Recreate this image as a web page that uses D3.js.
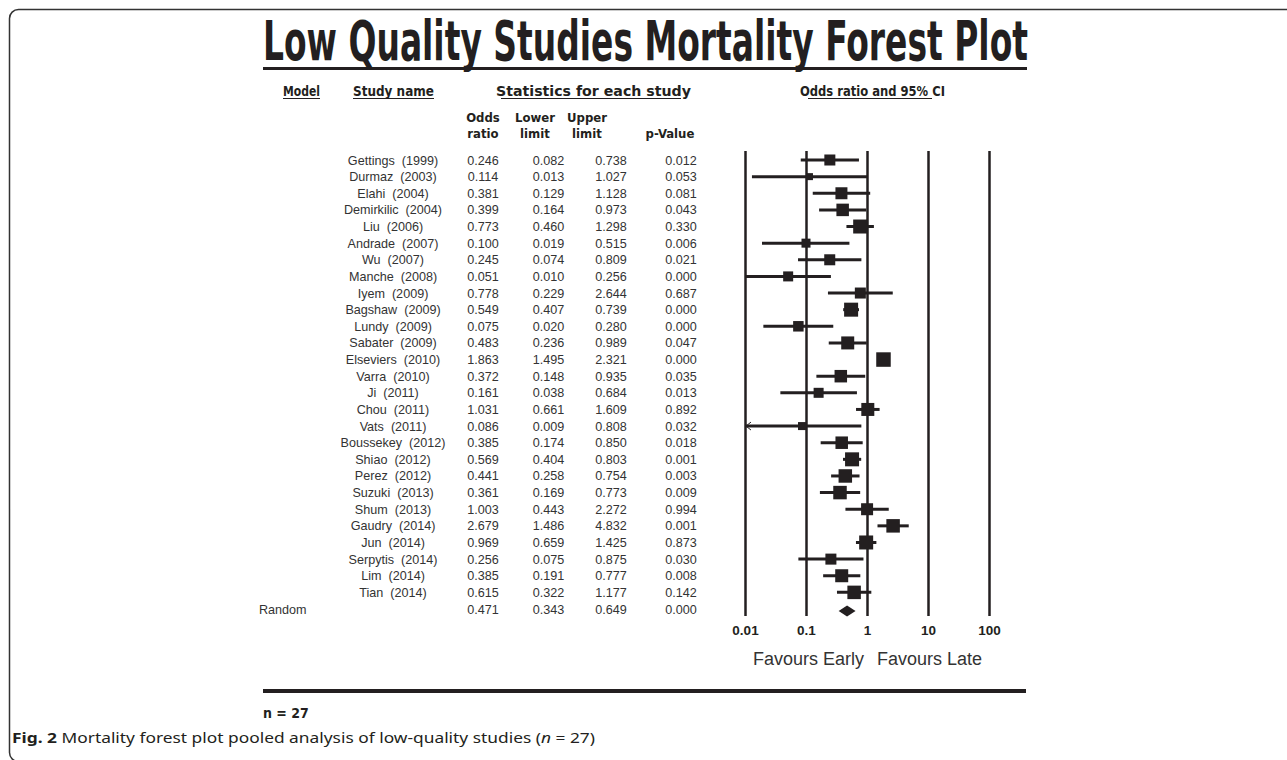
<!DOCTYPE html>
<html>
<head>
<meta charset="utf-8">
<script src="https://cdn.jsdelivr.net/npm/d3@7"></script>
<style>
  body { margin: 0; background: #fff; overflow: hidden; }
  svg { display: block; }
</style>
</head>
<body>
<div id="chart"></div>
<script>
// study rows, top to bottom
const studies = ['Gettings (1999)', 'Durmaz (2003)', 'Elahi (2004)', 'Demirkilic (2004)', 'Liu (2006)',
  'Andrade (2007)', 'Wu (2007)', 'Manche (2008)', 'Iyem (2009)', 'Bagshaw (2009)', 'Lundy (2009)',
  'Sabater (2009)', 'Elseviers (2010)', 'Varra (2010)', 'Ji (2011)', 'Chou (2011)', 'Vats (2011)',
  'Boussekey (2012)', 'Shiao (2012)', 'Perez (2012)', 'Suzuki (2013)', 'Shum (2013)', 'Gaudry (2014)',
  'Jun (2014)', 'Serpytis (2014)', 'Lim (2014)', 'Tian (2014)'];
const oddsRatio = [0.246, 0.114, 0.381, 0.399, 0.773, 0.100, 0.245, 0.051, 0.778, 0.549, 0.075, 0.483, 1.863,
  0.372, 0.161, 1.031, 0.086, 0.385, 0.569, 0.441, 0.361, 1.003, 2.679, 0.969, 0.256, 0.385, 0.615];
const lowerLimit = [0.082, 0.013, 0.129, 0.164, 0.460, 0.019, 0.074, 0.010, 0.229, 0.407, 0.020, 0.236, 1.495,
  0.148, 0.038, 0.661, 0.009, 0.174, 0.404, 0.258, 0.169, 0.443, 1.486, 0.659, 0.075, 0.191, 0.322];
const upperLimit = [0.738, 1.027, 1.128, 0.973, 1.298, 0.515, 0.809, 0.256, 2.644, 0.739, 0.280, 0.989, 2.321,
  0.935, 0.684, 1.609, 0.808, 0.850, 0.803, 0.754, 0.773, 2.272, 4.832, 1.425, 0.875, 0.777, 1.177];
const pValue = ['0.012', '0.053', '0.081', '0.043', '0.330', '0.006', '0.021', '0.000', '0.687', '0.000', '0.000',
  '0.047', '0.000', '0.035', '0.013', '0.892', '0.032', '0.018', '0.001', '0.003', '0.009', '0.994', '0.001',
  '0.873', '0.030', '0.008', '0.142'];
// relative weights (%), estimated from the square sizes
const weights = [3.05, 1.23, 3.62, 3.93, 4.93, 2.04, 3.05, 2.52, 3.05, 4.93, 2.77, 4.25, 5.29, 3.93, 2.52,
  4.25, 1.61, 3.93, 4.93, 4.58, 4.58, 3.62, 4.58, 4.93, 3.05, 4.25, 4.58];
// pooled random effects estimate
const pooled = { label: 'Random', or: 0.471, lower: 0.343, upper: 0.649, p: '0.000' };
const tickValues = [0.01, 0.1, 1, 10, 100];
const tickLabels = ['0.01', '0.1', '1', '10', '100'];

const width = 1287;
const height = 760;
const ink = '#231f20';
const textColor = '#333';
const narrow = "'Liberation Sans Narrow', 'Arial Narrow', 'DejaVu Sans Condensed', 'Liberation Sans', sans-serif";
const sans = "'Liberation Sans', Arial, sans-serif";

const rows = studies.map((s, i) => ({
  name: s, or: oddsRatio[i], lower: lowerLimit[i], upper: upperLimit[i], p: pValue[i], w: weights[i],
}));

const svg = d3.select('#chart').append('svg')
  .attr('width', width)
  .attr('height', height);

// rounded frame, running off the right and bottom like the page crop
svg.append('rect')
  .attr('x', 9.5).attr('y', 9.5)
  .attr('width', 1320).attr('height', 752)
  .attr('rx', 9)
  .attr('fill', 'none')
  .attr('stroke', '#333')
  .attr('stroke-width', 1.5);

// title
svg.append('text')
  .attr('x', 263).attr('y', 60)
  .attr('textLength', 765)
  .attr('lengthAdjust', 'spacingAndGlyphs')
  .style('font-family', narrow)
  .style('font-stretch', 'condensed')
  .style('font-weight', 'bold')
  .style('font-size', '55px')
  .attr('fill', ink)
  .text('Low Quality Studies Mortality Forest Plot');

svg.append('line')
  .attr('x1', 263).attr('x2', 1027)
  .attr('y1', 68.5).attr('y2', 68.5)
  .attr('stroke', ink).attr('stroke-width', 3);

// column group headers
const headers = [
  { t: 'Model', x: 283, len: 37, u: [283, 320] },
  { t: 'Study name', x: 353, len: 81, u: [353, 434] },
  { t: 'Statistics for each study', x: 496, len: 195, u: [501, 681] },
  { t: 'Odds ratio and 95% CI', x: 800, len: 145, u: [808, 932] },
];
const hg = svg.append('g');
hg.selectAll('text').data(headers).join('text')
  .attr('x', (d) => d.x).attr('y', 96)
  .attr('textLength', (d) => d.len)
  .attr('lengthAdjust', 'spacingAndGlyphs')
  .style('font-family', narrow)
  .style('font-stretch', 'condensed')
  .style('font-weight', 'bold')
  .style('font-size', '13.5px')
  .attr('fill', ink)
  .text((d) => d.t);
hg.selectAll('line').data(headers).join('line')
  .attr('x1', (d) => d.u[0]).attr('x2', (d) => d.u[1])
  .attr('y1', 98.5).attr('y2', 98.5)
  .attr('stroke', ink).attr('stroke-width', 1.2);

// column centres
const col = { name: 393, or: 483, lower: 548.5, upper: 611, p: 681 };

const subHeads = [
  { l: ['Odds', 'ratio'], x: 483 },
  { l: ['Lower', 'limit'], x: 535 },
  { l: ['Upper', 'limit'], x: 587 },
  { l: ['', 'p-Value'], x: 670 },
];
svg.append('g').selectAll('text').data(subHeads).join('text')
  .attr('text-anchor', 'middle')
  .style('font-family', narrow)
  .style('font-stretch', 'condensed')
  .style('font-weight', 'bold')
  .style('font-size', '13px')
  .attr('fill', ink)
  .selectAll('tspan').data((d) => d.l.map((s, i) => ({ s, i, x: d.x }))).join('tspan')
  .attr('x', (d) => d.x)
  .attr('y', (d) => 122 + d.i * 16)
  .text((d) => d.s);

// scales
const y = d3.scalePoint()
  .domain([...studies, pooled.label])
  .range([160, 609]);

const x = d3.scaleLog()
  .domain([0.01, 100])
  .range([745, 989]);

const size = d3.scaleSqrt()
  .domain([0, d3.max(weights)])
  .range([0, 14.5]);

const fmt = d3.format('.3f');

// table text
const table = svg.append('g')
  .style('font-family', sans)
  .style('font-size', '12.6px')
  .attr('fill', textColor)
  .attr('text-anchor', 'middle');

const cells = [];
rows.forEach((r) => {
  cells.push({ x: col.name, y: y(r.name), t: r.name.replace(' (', '\u00a0\u00a0(') });
  cells.push({ x: col.or, y: y(r.name), t: fmt(r.or) });
  cells.push({ x: col.lower, y: y(r.name), t: fmt(r.lower) });
  cells.push({ x: col.upper, y: y(r.name), t: fmt(r.upper) });
  cells.push({ x: col.p, y: y(r.name), t: r.p });
});
cells.push({ x: col.or, y: y(pooled.label), t: fmt(pooled.or) });
cells.push({ x: col.lower, y: y(pooled.label), t: fmt(pooled.lower) });
cells.push({ x: col.upper, y: y(pooled.label), t: fmt(pooled.upper) });
cells.push({ x: col.p, y: y(pooled.label), t: pooled.p });

table.selectAll('text').data(cells).join('text')
  .attr('x', (d) => d.x)
  .attr('y', (d) => d.y + 4.5)
  .text((d) => d.t);

table.append('text')
  .attr('x', 259)
  .attr('y', y(pooled.label) + 4.5)
  .attr('text-anchor', 'start')
  .text(pooled.label);

// plot axis: vertical reference lines with labels below
const plotTop = 151;
const plotBottom = 616;
const axis = svg.append('g')
  .attr('transform', `translate(0,${plotBottom})`)
  .call(d3.axisBottom(x)
    .tickValues(tickValues)
    .tickFormat((d, i) => tickLabels[i])
    .tickSize(-(plotBottom - plotTop))
    .tickPadding(9));
axis.select('.domain').remove();
axis.selectAll('.tick line')
  .attr('stroke', ink)
  .attr('stroke-width', 2.5);
axis.selectAll('.tick text')
  .attr('fill', ink)
  .style('font-family', sans)
  .style('font-weight', 'bold')
  .style('font-size', '13.5px');

// confidence intervals
const [xmin, xmax] = x.domain();
const marks = svg.append('g');
marks.selectAll('line').data(rows).join('line')
  .attr('x1', (d) => x(Math.max(d.lower, xmin)))
  .attr('x2', (d) => x(Math.min(d.upper, xmax)))
  .attr('y1', (d) => y(d.name))
  .attr('y2', (d) => y(d.name))
  .attr('stroke', ink)
  .attr('stroke-width', 3);

// arrow where the interval runs past the axis
marks.selectAll('path.arrow').data(rows.filter((d) => d.lower < xmin)).join('path')
  .attr('class', 'arrow')
  .attr('d', (d) => {
    const x0 = x(xmin) + 1;
    const y0 = y(d.name);
    return `M${x0 + 5},${y0 - 4}L${x0},${y0}L${x0 + 5},${y0 + 4}`;
  })
  .attr('fill', 'none')
  .attr('stroke', ink)
  .attr('stroke-width', 1);

marks.selectAll('rect').data(rows).join('rect')
  .attr('x', (d) => x(d.or) - size(d.w) / 2)
  .attr('y', (d) => y(d.name) - size(d.w) / 2)
  .attr('width', (d) => size(d.w))
  .attr('height', (d) => size(d.w))
  .attr('fill', ink);

// pooled diamond
const py = y(pooled.label) + 2;
marks.append('path')
  .attr('d', `M${x(pooled.lower)},${py}L${x(pooled.or)},${py - 5.5}L${x(pooled.upper)},${py}L${x(pooled.or)},${py + 5.5}Z`)
  .attr('fill', ink);

// favours labels
const fav = svg.append('g')
  .style('font-family', sans)
  .style('font-size', '18px')
  .attr('fill', textColor);
fav.append('text')
  .attr('x', x(1) - 3).attr('y', 665)
  .attr('text-anchor', 'end')
  .text('Favours Early');
fav.append('text')
  .attr('x', x(1) + 10).attr('y', 665)
  .text('Favours Late');

// bottom rule and count
svg.append('line')
  .attr('x1', 263).attr('x2', 1026)
  .attr('y1', 691).attr('y2', 691)
  .attr('stroke', ink).attr('stroke-width', 4);

svg.append('text')
  .attr('x', 263).attr('y', 718)
  .style('font-family', narrow)
  .style('font-stretch', 'condensed')
  .style('font-weight', 'bold')
  .style('font-size', '14px')
  .attr('fill', ink)
  .text(`n = ${studies.length}`);

// figure caption
const cap = svg.append('text')
  .attr('x', 12).attr('y', 743)
  .attr('textLength', 583)
  .attr('lengthAdjust', 'spacingAndGlyphs')
  .style('font-family', "'Noto Sans', 'Open Sans', sans-serif")
  .style('font-size', '15px')
  .attr('fill', '#231f20');
cap.append('tspan').style('font-weight', 'bold').text('Fig. 2');
cap.append('tspan').text(' Mortality forest plot pooled analysis of low-quality studies (');
cap.append('tspan').style('font-style', 'italic').text('n');
cap.append('tspan').text(` = ${studies.length})`);
</script>
</body>
</html>
